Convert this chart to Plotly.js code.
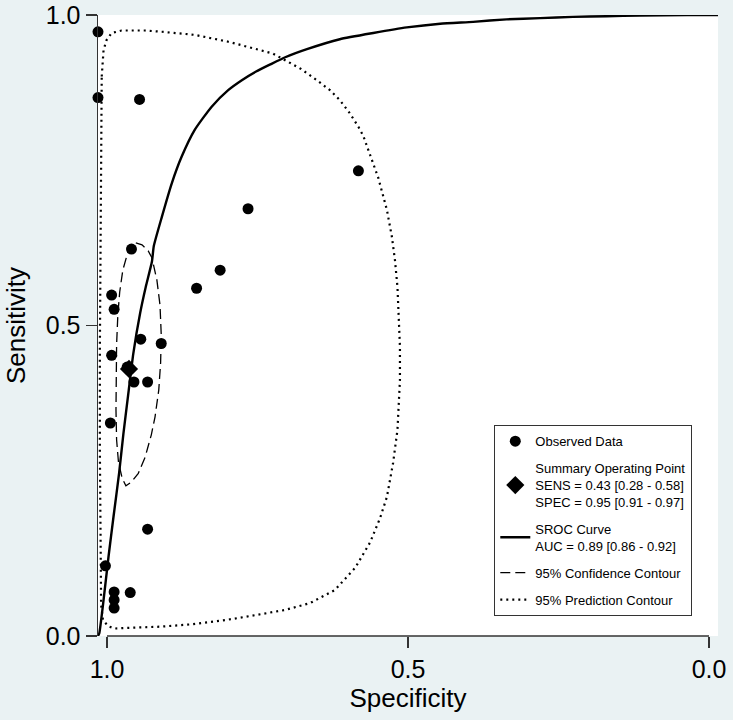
<!DOCTYPE html>
<html>
<head>
<meta charset="utf-8">
<script src="https://cdn.plot.ly/plotly-3.0.1.min.js"></script>
<style>
html,body{margin:0;padding:0;background:#EAF2F3;}
#chart{width:733px;height:720px;}
</style>
</head>
<body>
<div id="chart"></div>
<script>
// Observed study data (specificity, sensitivity)
var obsSpec = [1.000, 1.000, 0.933, 0.580, 0.758, 0.803, 0.841, 0.946, 0.978, 0.974, 0.931, 0.898, 0.978, 0.953, 0.942, 0.920, 0.980, 0.920, 0.988, 0.974, 0.974, 0.974, 0.948];
var obsSens = [0.973, 0.867, 0.864, 0.749, 0.688, 0.589, 0.560, 0.623, 0.549, 0.526, 0.478, 0.471, 0.452, 0.433, 0.409, 0.409, 0.343, 0.172, 0.113, 0.071, 0.058, 0.045, 0.070];

// Summary operating point
var sumSpec = [0.95];
var sumSens = [0.43];

// SROC curve
var srocSpec = [1.000, 0.998, 0.991, 0.983, 0.975, 0.966, 0.959, 0.952, 0.943, 0.932, 0.923, 0.913, 0.910, 0.897, 0.881, 0.865, 0.844, 0.817, 0.790, 0.768, 0.745, 0.723, 0.698, 0.663, 0.610, 0.556, 0.502, 0.448, 0.395, 0.341, 0.287, 0.234, 0.180, 0.126, 0.050, 0.000];
var srocSens = [0.000, 0.004, 0.058, 0.128, 0.192, 0.262, 0.326, 0.383, 0.455, 0.520, 0.562, 0.603, 0.628, 0.675, 0.729, 0.772, 0.815, 0.852, 0.879, 0.895, 0.909, 0.920, 0.932, 0.945, 0.961, 0.971, 0.980, 0.986, 0.989, 0.993, 0.995, 0.997, 0.998, 0.999, 1.000, 1.000];

// 95% confidence contour
var confSpec = [0.939, 0.929, 0.919, 0.913, 0.905, 0.900, 0.898, 0.899, 0.902, 0.908, 0.914, 0.924, 0.935, 0.946, 0.955, 0.961, 0.967, 0.970, 0.971, 0.971, 0.970, 0.968, 0.965, 0.960, 0.953, 0.947, 0.939];
var confSens = [0.633, 0.630, 0.620, 0.609, 0.573, 0.533, 0.485, 0.440, 0.396, 0.353, 0.324, 0.288, 0.262, 0.248, 0.242, 0.254, 0.280, 0.316, 0.364, 0.412, 0.469, 0.517, 0.554, 0.589, 0.614, 0.628, 0.633];

// 95% prediction contour
var predSpec = [0.994, 0.991, 0.986, 0.978, 0.962, 0.924, 0.897, 0.844, 0.790, 0.750, 0.718, 0.696, 0.674, 0.647, 0.626, 0.610, 0.594, 0.580, 0.572, 0.548, 0.540, 0.534, 0.526, 0.521, 0.517, 0.515, 0.513, 0.513, 0.515, 0.517, 0.524, 0.529, 0.534, 0.545, 0.561, 0.585, 0.618, 0.658, 0.698, 0.744, 0.792, 0.847, 0.900, 0.954, 0.973, 0.984, 0.992, 0.995, 0.996, 0.997, 0.997, 0.996, 0.995, 0.994];
var predSens = [0.901, 0.944, 0.960, 0.971, 0.975, 0.975, 0.973, 0.968, 0.957, 0.946, 0.938, 0.926, 0.914, 0.895, 0.879, 0.863, 0.842, 0.820, 0.805, 0.738, 0.710, 0.686, 0.643, 0.605, 0.562, 0.520, 0.466, 0.412, 0.369, 0.332, 0.279, 0.251, 0.224, 0.190, 0.151, 0.110, 0.074, 0.053, 0.042, 0.034, 0.026, 0.019, 0.015, 0.013, 0.012, 0.016, 0.026, 0.050, 0.138, 0.300, 0.461, 0.622, 0.783, 0.901];

// Axis ticks
var xTickVals = [1.0, 0.5, 0.0];
var xTickText = ['1.0', '0.5', '0.0'];
var yTickVals = [0.0, 0.5, 1.0];
var yTickText = ['0.0', '0.5', '1.0'];

// Legend labels
var lblObs = 'Observed Data';
var lblSum = 'Summary Operating Point<br>SENS = 0.43 [0.28 - 0.58]<br>SPEC = 0.95 [0.91 - 0.97]';
var lblSroc = 'SROC Curve<br>AUC = 0.89 [0.86 - 0.92]';
var lblConf = '95% Confidence Contour';
var lblPred = '95% Prediction Contour';

var FONT = 'Liberation Sans, Arial, Helvetica, sans-serif';
var INK = '#000000';

var traces = [
  {x: predSpec, y: predSens, type: 'scatter', mode: 'lines', name: lblPred,
   line: {color: INK, width: 2.2, dash: '2px,4px'}, legendgroup: 'e', legendrank: 5, hoverinfo: 'skip'},
  {x: confSpec, y: confSens, type: 'scatter', mode: 'lines', name: lblConf,
   line: {color: INK, width: 1.3, dash: '10px,5px'}, legendgroup: 'd', legendrank: 4, hoverinfo: 'skip'},
  {x: srocSpec, y: srocSens, type: 'scatter', mode: 'lines', name: lblSroc,
   line: {color: INK, width: 2.4, shape: 'spline', smoothing: 0.5}, legendgroup: 'c', legendrank: 3, hoverinfo: 'skip'},
  {x: obsSpec, y: obsSens, type: 'scatter', mode: 'markers', name: lblObs, cliponaxis: false,
   marker: {symbol: 'circle', size: 11, color: INK}, legendgroup: 'a', legendrank: 1},
  {x: sumSpec, y: sumSens, type: 'scatter', mode: 'markers', name: lblSum, cliponaxis: false,
   marker: {symbol: 'diamond', size: 14, color: INK}, legendgroup: 'b', legendrank: 2}
];

var layout = {
  width: 733, height: 720,
  margin: {l: 98, r: 15, t: 15, b: 84, pad: 0},
  paper_bgcolor: '#EAF2F3',
  plot_bgcolor: '#FFFFFF',
  font: {family: FONT, color: INK},
  showlegend: true,
  xaxis: {
    range: [1, 0], showticklabels: false, ticks: '', showline: false,
    showgrid: false, zeroline: false, fixedrange: true
  },
  xaxis2: {
    overlaying: 'x', anchor: 'y', side: 'bottom',
    range: [1.01495, -0.01495],
    tickmode: 'array', tickvals: xTickVals, ticktext: xTickText,
    ticks: 'outside', ticklen: 11, tickwidth: 1.5, tickcolor: '#333333',
    showline: false, showgrid: false, zeroline: false,
    tickfont: {family: FONT, size: 25, color: INK},
    title: {text: 'Specificity', font: {family: FONT, size: 26, color: INK}, standoff: 5}
  },
  yaxis: {
    range: [0, 1],
    tickmode: 'array', tickvals: yTickVals, ticktext: yTickText,
    ticks: 'outside', ticklen: 11, tickwidth: 1.5, tickcolor: '#333333',
    showline: true, linecolor: '#333333', linewidth: 1.5,
    showgrid: false, zeroline: false,
    tickfont: {family: FONT, size: 25, color: INK},
    title: {text: 'Sensitivity', font: {family: FONT, size: 26, color: INK}, standoff: 12}
  },
  shapes: [
    {type: 'line', xref: 'x2', yref: 'paper', x0: xTickVals[0], x1: xTickVals[2], y0: 0, y1: 0,
     line: {color: '#333333', width: 1.5}}
  ],
  legend: {
    x: 0.6387, y: 0.3398, xanchor: 'left', yanchor: 'top',
    bgcolor: '#FFFFFF', bordercolor: '#333333', borderwidth: 1.3,
    font: {family: FONT, size: 13, color: INK},
    traceorder: 'grouped', tracegroupgap: 7, itemwidth: 30
  }
};

Plotly.newPlot('chart', traces, layout, {displayModeBar: false, staticPlot: true});
</script>
</body>
</html>
